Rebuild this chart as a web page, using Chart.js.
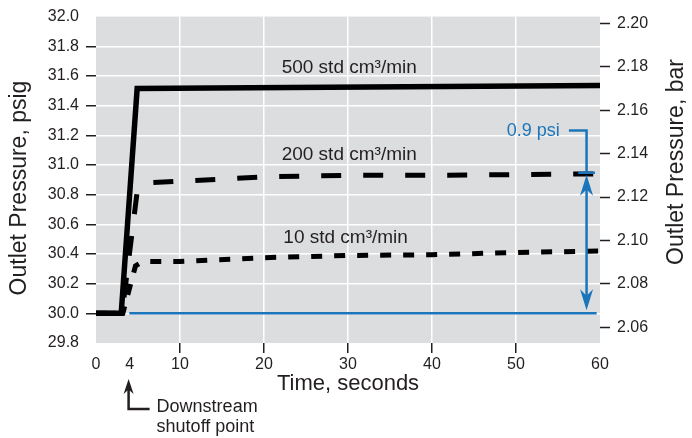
<!DOCTYPE html>
<html>
<head>
<meta charset="utf-8">
<script src="https://cdn.jsdelivr.net/npm/chart.js@4/dist/chart.umd.min.js"></script>
<style>
  html, body { margin: 0; padding: 0; background: #fff; }
  #wrap { width: 692px; height: 438px; }
</style>
</head>
<body>
<div id="wrap"><canvas id="chart"></canvas></div>
<script>
// ── Data ─────────────────────────────────────────────────────────────────────
const xTicks   = [0, 4, 10, 20, 30, 40, 50, 60];
const psiTicks = [29.8, 30.0, 30.2, 30.4, 30.6, 30.8, 31.0, 31.2, 31.4, 31.6, 31.8, 32.0];
const barTicks = [2.06, 2.08, 2.10, 2.12, 2.14, 2.16, 2.18, 2.20];

const t500 = [0, 3.0, 4.9, 60];
const p500 = [30.0, 30.0, 31.515, 31.535];
const t200 = [0, 3.1, 4.9, 6.2, 10, 20, 30, 40, 50, 60];
const p200 = [30.0, 30.0, 30.82, 30.88, 30.89, 30.92, 30.93, 30.93, 30.935, 30.94];
const t10  = [0, 3.2, 4.7, 5.6, 10, 20, 30, 40, 50, 60];
const p10  = [30.0, 30.0, 30.32, 30.35, 30.35, 30.375, 30.39, 30.395, 30.41, 30.42];

const flowLabels = ['500 std cm³/min', '200 std cm³/min', '10 std cm³/min'];

// annotation anchors (in data units)
const labelT   = [22.1, 22.1, 22.3];
const labelPsi = [31.62, 31.033, 30.473];
const baseT    = [3.97, 59.6];
const basePsi  = 30.0;
const deltaT   = 58.4;
const deltaTop = 30.947;
const deltaLbl = '0.9 psi';
const shutoffT = 4;

const INK  = '#231f20';
const BLUE = '#1b75bb';
const FONT = "'Liberation Sans', Arial, Helvetica, sans-serif";
Chart.defaults.font.family = FONT;

const pts = (xs, ys) => xs.map((x, i) => ({ x, y: ys[i] }));

// ── Plugins ──────────────────────────────────────────────────────────────────
const plotBg = {
    id: 'plotBg',
    beforeDraw(chart) {
        const a = chart.chartArea, ctx = chart.ctx;
        ctx.save();
        ctx.fillStyle = '#dcdddf';
        ctx.fillRect(a.left, a.top, a.right - a.left, a.bottom - a.top);
        ctx.restore();
    }
};

function arrowHead(ctx, x, tipY, dir, len, half) {
    // dir = -1 points up, +1 points down
    ctx.beginPath();
    ctx.moveTo(x, tipY);
    ctx.lineTo(x - half, tipY - dir * len);
    ctx.lineTo(x, tipY - dir * len * 0.7);
    ctx.lineTo(x + half, tipY - dir * len);
    ctx.closePath();
    ctx.fill();
}

const notes = {
    id: 'notes',
    afterDraw(chart) {
        const ctx = chart.ctx, a = chart.chartArea;
        const xs = chart.scales.x, ys = chart.scales.y;
        ctx.save();

        // blue reference line at 30.0
        ctx.strokeStyle = BLUE;
        ctx.lineWidth = 2.5;
        ctx.beginPath();
        ctx.moveTo(xs.getPixelForValue(baseT[0]), ys.getPixelForValue(basePsi));
        ctx.lineTo(xs.getPixelForValue(baseT[1]), ys.getPixelForValue(basePsi));
        ctx.stroke();

        // 0.9 psi bracket
        const ax = xs.getPixelForValue(deltaT);
        const yTop = ys.getPixelForValue(deltaTop);
        const yBot = ys.getPixelForValue(basePsi);
        const yLbl = ys.getPixelForValue(31.233);
        ctx.beginPath();
        ctx.moveTo(xs.getPixelForValue(56.3), yLbl);
        ctx.lineTo(ax, yLbl);
        ctx.lineTo(ax, yTop);
        ctx.moveTo(xs.getPixelForValue(57.4), yTop);
        ctx.lineTo(xs.getPixelForValue(59.4), yTop);
        ctx.moveTo(ax, yTop + 12);
        ctx.lineTo(ax, yBot - 12);
        ctx.stroke();
        ctx.fillStyle = BLUE;
        arrowHead(ctx, ax, yTop + 2, -1, 21, 6.5);
        arrowHead(ctx, ax, yBot - 3, 1, 21, 6.5);

        ctx.font = '18px ' + FONT;
        ctx.textAlign = 'right';
        ctx.textBaseline = 'middle';
        ctx.fillText(deltaLbl, xs.getPixelForValue(55.2), yLbl + 1);

        // flow labels
        ctx.fillStyle = INK;
        ctx.font = '19px ' + FONT;
        ctx.textAlign = 'left';
        ctx.textBaseline = 'alphabetic';
        flowLabels.forEach((s, i) => {
            ctx.fillText(s, xs.getPixelForValue(labelT[i]), ys.getPixelForValue(labelPsi[i]));
        });

        // downstream shutoff pointer
        const sx = xs.getPixelForValue(shutoffT) - 1;
        ctx.strokeStyle = INK;
        ctx.lineWidth = 2.5;
        ctx.beginPath();
        ctx.moveTo(sx, a.bottom + 45);
        ctx.lineTo(sx, a.bottom + 66);
        ctx.lineTo(sx + 21, a.bottom + 66);
        ctx.stroke();
        arrowHead(ctx, sx, a.bottom + 36, -1, 15, 5);
        ctx.font = '18px ' + FONT;
        ctx.textBaseline = 'alphabetic';
        ctx.fillText('Downstream', sx + 28, a.bottom + 69);
        ctx.fillText('shutoff point', sx + 28, a.bottom + 89);

        // axis titles
        ctx.font = '22px ' + FONT;
        ctx.textAlign = 'center';
        ctx.textBaseline = 'middle';
        ctx.fillText('Time, seconds', (a.left + a.right) / 2, a.bottom + 41);
        ctx.font = '23px ' + FONT;
        ctx.save();
        ctx.translate(20, 188);
        ctx.rotate(-Math.PI / 2);
        ctx.fillText('Outlet Pressure, psig', 0, 0);
        ctx.restore();
        ctx.save();
        ctx.translate(677, 162);
        ctx.rotate(-Math.PI / 2);
        ctx.fillText('Outlet Pressure, bar', 0, 0);
        ctx.restore();

        ctx.restore();
    }
};

// ── Chart ────────────────────────────────────────────────────────────────────
const lineStyle = { borderColor: '#000', borderWidth: 5.5, pointRadius: 0, tension: 0,
                    borderCapStyle: 'butt', borderJoinStyle: 'miter', fill: false };

const innerX = c => c.tick && c.tick.value > 4 && c.tick.value < 60;
const innerY = c => c.tick && c.tick.value > 29.85 && c.tick.value < 31.95;

new Chart(document.getElementById('chart'), {
    type: 'line',
    data: {
        datasets: [
            { ...lineStyle, label: flowLabels[2], data: pts(t10, p10), borderWidth: 5, borderDash: [11, 12] },
            { ...lineStyle, label: flowLabels[1], data: pts(t200, p200), borderWidth: 5, borderDash: [20, 22] },
            { ...lineStyle, label: flowLabels[0], data: pts(t500, p500) }
        ]
    },
    options: {
        responsive: true,
        maintainAspectRatio: false,
        animation: false,
        layout: { padding: { top: 13, left: 0, right: 0, bottom: 0 } },
        plugins: { legend: { display: false }, tooltip: { enabled: false } },
        scales: {
            x: {
                type: 'linear', min: 0, max: 60,
                afterBuildTicks: s => { s.ticks = xTicks.map(v => ({ value: v })); },
                afterFit: s => { s.height = 95; },
                border: { display: false },
                grid: { color: c => innerX(c) ? '#fff' : 'transparent',
                        tickColor: c => innerX(c) ? INK : 'transparent',
                        lineWidth: 1.5, tickWidth: 1.5, tickLength: 10 },
                ticks: { color: INK, font: { size: 16 }, padding: 2, maxRotation: 0, autoSkip: false,
                         callback: v => String(v) }
            },
            y: {
                position: 'left', min: 29.8, max: 32.0,
                afterBuildTicks: s => { s.ticks = psiTicks.map(v => ({ value: v })); },
                afterFit: s => { s.width = 96; },
                border: { display: false },
                grid: { color: c => innerY(c) ? '#fff' : 'transparent',
                        tickColor: c => innerY(c) ? INK : 'transparent',
                        lineWidth: 1.5, tickWidth: 1.5, tickLength: 10 },
                ticks: { color: INK, font: { size: 16 }, padding: 7, autoSkip: false,
                         callback: v => Number(v).toFixed(1) }
            },
            y2: {
                position: 'right', min: 2.0527, max: 2.2032,
                afterBuildTicks: s => { s.ticks = barTicks.map(v => ({ value: v })); },
                afterFit: s => { s.width = 92; },
                border: { display: false },
                grid: { drawOnChartArea: false, tickColor: INK, tickWidth: 1.5, tickLength: 10 },
                ticks: { color: INK, font: { size: 16 }, padding: 7, autoSkip: false,
                         callback: v => Number(v).toFixed(2) }
            }
        }
    },
    plugins: [plotBg, notes]
});
</script>
</body>
</html>
